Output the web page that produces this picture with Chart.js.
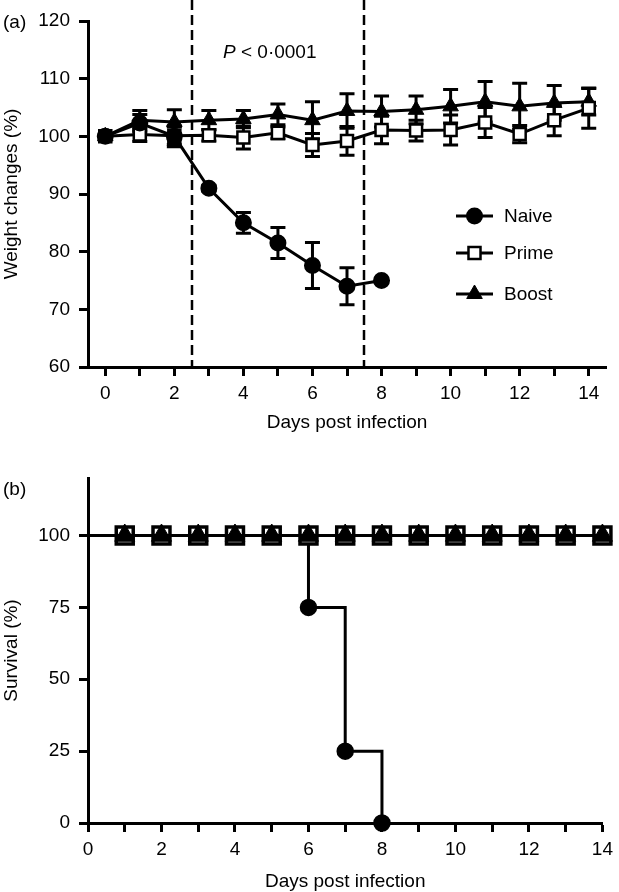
<!DOCTYPE html>
<html>
<head>
<meta charset="utf-8">
<script src="https://cdn.jsdelivr.net/npm/chart.js@4.4.0/dist/chart.umd.min.js"></script>
<style>
  html, body { margin: 0; padding: 0; background: #fff; }
  #wrap { position: relative; width: 619px; height: 892px; }
  #weightBox { position: absolute; left: 0; top: 0; width: 619px; height: 440px; }
  #survivalBox { position: absolute; left: 0; top: 440px; width: 619px; height: 452px; }
</style>
</head>
<body>
<div id="wrap">
  <div id="weightBox"><canvas id="weightChart"></canvas></div>
  <div id="survivalBox"><canvas id="survivalChart"></canvas></div>
</div>
<script>
// --- data ---
const dayTicks = [0, 1, 2, 3, 4, 5, 6, 7, 8, 9, 10, 11, 12, 13, 14];
const weightTicks = [60, 70, 80, 90, 100, 110, 120];
const survivalTicks = [0, 25, 50, 75, 100];

const naiveDays = [0, 1, 2, 3, 4, 5, 6, 7, 8];
const naiveWeight = [100, 102.3, 100.0, 91.0, 85.0, 81.5, 77.6, 74.0, 75.0];
const naiveErr = [0, 1.5, 1.8, 0.5, 1.8, 2.7, 4.0, 3.2, 0];

const allDays = [0, 1, 2, 3, 4, 5, 6, 7, 8, 9, 10, 11, 12, 13, 14];
const primeWeight = [100, 100.3, 100.1, 100.2, 99.8, 100.6, 98.5, 99.2, 101.1, 101.0, 101.1, 102.4, 100.4, 102.8, 104.9];
const primeErr = [0, 1.2, 1.5, 1.0, 2.0, 1.0, 2.0, 2.5, 2.4, 1.8, 2.6, 2.6, 1.5, 2.7, 3.5];
const boostWeight = [100, 102.8, 102.5, 102.8, 103.0, 103.8, 102.8, 104.4, 104.3, 104.6, 105.2, 106.0, 105.2, 105.8, 106.0];
const boostErr = [0, 1.7, 2.1, 1.7, 1.5, 1.8, 3.2, 3.0, 2.7, 2.4, 2.9, 3.5, 4.0, 3.0, 2.3];

const cutoffDays = [2.5, 7.5];

const naiveSurvDays = [0, 1, 2, 3, 4, 5, 6, 7, 8];
const naiveSurvival = [100, 100, 100, 100, 100, 100, 75, 25, 0];
const primeSurvival = [100, 100, 100, 100, 100, 100, 100, 100, 100, 100, 100, 100, 100, 100, 100];
const boostSurvival = [100, 100, 100, 100, 100, 100, 100, 100, 100, 100, 100, 100, 100, 100, 100];

const seriesNames = ['Naive', 'Prime', 'Boost'];

Chart.defaults.font.family = '"Liberation Sans", Arial, Helvetica, sans-serif';
Chart.defaults.font.size = 19;
Chart.defaults.color = '#000';

function toPoints(xs, ys) {
    return xs.map((x, i) => ({ x: x, y: ys[i] }));
}

// draw a marker the same way the datasets look
function drawMarker(ctx, style, x, y, r) {
    ctx.save();
    ctx.strokeStyle = '#000';
    ctx.beginPath();
    if (style === 'circle') {
        ctx.fillStyle = '#000';
        ctx.lineWidth = 2;
        ctx.arc(x, y, r, 0, Math.PI * 2);
    } else if (style === 'rect') {
        const s = r * Math.SQRT1_2;
        ctx.fillStyle = '#fff';
        ctx.lineWidth = 2.5;
        ctx.rect(x - s, y - s, 2 * s, 2 * s);
    } else {
        ctx.fillStyle = '#000';
        ctx.lineWidth = 1;
        for (let k = 0; k < 3; k++) {
            const a = k * Math.PI * 2 / 3;
            const px = x + Math.sin(a) * r, py = y - Math.cos(a) * r;
            if (k === 0) ctx.moveTo(px, py); else ctx.lineTo(px, py);
        }
        ctx.closePath();
    }
    ctx.fill();
    ctx.stroke();
    ctx.restore();
}

// only even days get a label
const evenOnly = v => (v % 2 === 0 ? v : '');

function axis(tickPad, labelFn, extra) {
    return Object.assign({
        type: 'linear',
        grid: { drawOnChartArea: false, drawTicks: true, tickLength: 9, tickWidth: 3, tickColor: '#000', color: '#000' },
        border: { display: true, color: '#000', width: 3 },
        ticks: {
            color: '#000', padding: tickPad, autoSkip: false, maxRotation: 0, font: { size: 19 },
            callback: labelFn
        }
    }, extra);
}

// --- error bars drawn under the lines and markers ---
const errorBars = {
    id: 'errorBars',
    beforeDatasetsDraw(chart) {
        const { ctx } = chart;
        const xs = chart.scales.x, ys = chart.scales.y;
        ctx.save();
        ctx.strokeStyle = '#000';
        ctx.lineWidth = 3;
        chart.data.datasets.forEach(ds => {
            if (!ds.errors) return;
            ds.data.forEach((p, i) => {
                const e = ds.errors[i];
                if (!e) return;
                const px = xs.getPixelForValue(p.x);
                const top = ys.getPixelForValue(p.y + e);
                const bot = ys.getPixelForValue(p.y - e);
                ctx.beginPath();
                ctx.moveTo(px, top); ctx.lineTo(px, bot);
                ctx.moveTo(px - 7.5, top); ctx.lineTo(px + 7.5, top);
                ctx.moveTo(px - 7.5, bot); ctx.lineTo(px + 7.5, bot);
                ctx.stroke();
            });
        });
        ctx.restore();
    }
};

// --- dashed cut-offs, P value, panel letter and legend for (a) ---
const weightExtras = {
    id: 'weightExtras',
    beforeDatasetsDraw(chart) {
        const { ctx, chartArea } = chart;
        ctx.save();
        ctx.strokeStyle = '#000';
        ctx.lineWidth = 2.5;
        ctx.setLineDash([10, 5]);
        cutoffDays.forEach(d => {
            const px = Math.round(chart.scales.x.getPixelForValue(d));
            ctx.beginPath();
            ctx.moveTo(px, 0);
            ctx.lineTo(px, chartArea.bottom);
            ctx.stroke();
        });
        ctx.restore();
    },
    afterDraw(chart) {
        const { ctx } = chart;
        const family = Chart.defaults.font.family;
        ctx.save();
        ctx.fillStyle = '#000';
        ctx.textBaseline = 'middle';
        ctx.textAlign = 'left';
        ctx.font = '19px ' + family;
        ctx.fillText('(a)', 3, 23);

        ctx.font = 'italic 19px ' + family;
        ctx.fillText('P', 223, 53);
        const pw = ctx.measureText('P').width;
        ctx.font = '19px ' + family;
        ctx.fillText(' < 0\u00b70001', 223 + pw, 53);

        // legend
        const rows = [216, 253, 294];
        const styles = ['circle', 'rect', 'triangle'];
        const radii = [7.5, 8.5, 9];
        seriesNames.forEach((name, i) => {
            const ry = rows[i];
            ctx.strokeStyle = '#000';
            ctx.lineWidth = 3;
            ctx.beginPath();
            ctx.moveTo(456, ry);
            ctx.lineTo(493, ry);
            ctx.stroke();
            drawMarker(ctx, styles[i], 474.5, ry, radii[i]);
            ctx.fillStyle = '#000';
            ctx.fillText(name, 504, ry + 1);
        });
        ctx.restore();
    }
};

const survivalExtras = {
    id: 'survivalExtras',
    afterDraw(chart) {
        const { ctx } = chart;
        ctx.save();
        ctx.fillStyle = '#000';
        ctx.textBaseline = 'middle';
        ctx.font = '19px ' + Chart.defaults.font.family;
        ctx.fillText('(b)', 3, 50);
        ctx.restore();
    }
};

new Chart(document.getElementById('weightChart'), {
    type: 'line',
    data: {
        datasets: [
            {
                label: 'Naive', data: toPoints(naiveDays, naiveWeight), errors: naiveErr,
                borderColor: '#000', borderWidth: 3, pointStyle: 'circle', pointRadius: 7.5,
                pointBackgroundColor: '#000', pointBorderColor: '#000', pointBorderWidth: 2, clip: false
            },
            {
                label: 'Prime', data: toPoints(allDays, primeWeight), errors: primeErr,
                borderColor: '#000', borderWidth: 3, pointStyle: 'rect', pointRadius: 8.5,
                pointBackgroundColor: '#fff', pointBorderColor: '#000', pointBorderWidth: 2.5, clip: false
            },
            {
                label: 'Boost', data: toPoints(allDays, boostWeight), errors: boostErr,
                borderColor: '#000', borderWidth: 3, pointStyle: 'triangle', pointRadius: 9,
                pointBackgroundColor: '#000', pointBorderColor: '#000', pointBorderWidth: 1, clip: false
            }
        ]
    },
    options: {
        responsive: true,
        maintainAspectRatio: false,
        animation: false,
        devicePixelRatio: 1,
        layout: { padding: { left: 0, right: 13, top: 21, bottom: 0 } },
        plugins: { legend: { display: false }, tooltip: { enabled: false } },
        scales: {
            x: axis(6, evenOnly, {
                min: -0.5, max: 14.5,
                afterBuildTicks: s => { s.ticks = dayTicks.map(v => ({ value: v })); },
                afterFit: s => { s.height = 73; },
                title: { display: true, text: 'Days post infection', color: '#000', font: { size: 19, lineHeight: 1 }, padding: { top: 0, bottom: 7.5 } }
            }),
            y: axis(9, v => v, {
                min: 60, max: 120,
                afterBuildTicks: s => { s.ticks = weightTicks.map(v => ({ value: v })); },
                afterFit: s => { s.width = 88; },
                title: { display: true, text: 'Weight changes (%)', color: '#000', font: { size: 19, lineHeight: 1 }, padding: { top: 2.5, bottom: 0 } }
            })
        }
    },
    plugins: [errorBars, weightExtras]
});

new Chart(document.getElementById('survivalChart'), {
    type: 'line',
    data: {
        datasets: [
            {
                label: 'Naive', data: toPoints(naiveSurvDays, naiveSurvival), order: 2,
                stepped: 'before', borderColor: '#000', borderWidth: 3, pointStyle: 'circle',
                pointRadius: c => (c.raw && c.raw.x === 0 ? 0 : 8),
                pointBackgroundColor: '#000', pointBorderColor: '#000', pointBorderWidth: 1.5, clip: false
            },
            {
                label: 'Prime', data: toPoints(allDays, primeSurvival), order: 1,
                borderColor: '#000', borderWidth: 3, pointStyle: 'rect',
                pointRadius: c => (c.raw && c.raw.x === 0 ? 0 : 12),
                pointBackgroundColor: '#fff', pointBorderColor: '#000', pointBorderWidth: 3.5, clip: false
            },
            {
                label: 'Boost', data: toPoints(allDays, boostSurvival), order: 0,
                borderColor: '#000', borderWidth: 3, pointStyle: 'triangle',
                pointRadius: c => (c.raw && c.raw.x === 0 ? 0 : 11.5),
                pointBackgroundColor: '#000', pointBorderColor: '#000', pointBorderWidth: 1, clip: false
            }
        ]
    },
    options: {
        responsive: true,
        maintainAspectRatio: false,
        animation: false,
        devicePixelRatio: 1,
        layout: { padding: { left: 0, right: 14, top: 38, bottom: 0 } },
        plugins: { legend: { display: false }, tooltip: { enabled: false } },
        scales: {
            x: axis(6, evenOnly, {
                min: 0, max: 14,
                afterBuildTicks: s => { s.ticks = dayTicks.map(v => ({ value: v })); },
                afterFit: s => { s.height = 69; },
                title: { display: true, text: 'Days post infection', color: '#000', font: { size: 19, lineHeight: 1 }, padding: { top: 0, bottom: 0.5 } }
            }),
            y: axis(9, v => v, {
                min: 0, max: 120,
                afterBuildTicks: s => { s.ticks = survivalTicks.map(v => ({ value: v })); },
                afterFit: s => { s.width = 88; },
                title: { display: true, text: 'Survival (%)', color: '#000', font: { size: 19, lineHeight: 1 }, padding: { top: 2.5, bottom: 0 } }
            })
        }
    },
    plugins: [survivalExtras]
});
</script>
</body>
</html>
